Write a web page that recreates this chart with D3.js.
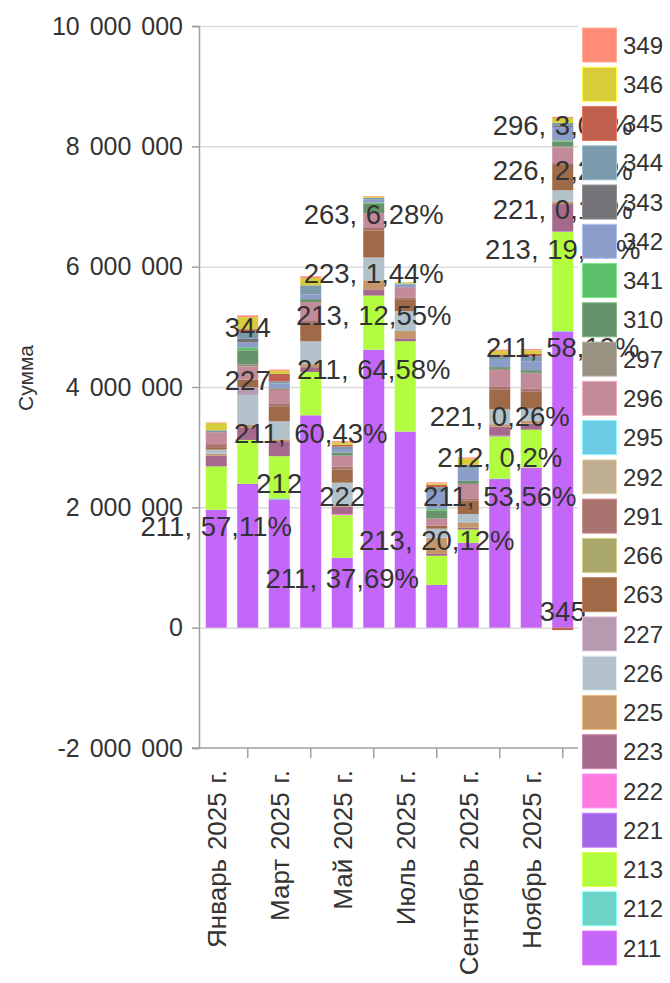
<!DOCTYPE html>
<html><head><meta charset="utf-8">
<script src="https://cdn.jsdelivr.net/npm/d3@7"></script>
<style>
body{margin:0;background:#fff}
text{font-family:"Liberation Sans",Arial,sans-serif}
</style>
</head><body><svg id="c" width="670" height="983"></svg>
<script>
// ---------- DATA ----------
const months = ["Январь 2025 г.","Февраль 2025 г.","Март 2025 г.","Апрель 2025 г.","Май 2025 г.","Июнь 2025 г.",
  "Июль 2025 г.","Август 2025 г.","Сентябрь 2025 г.","Октябрь 2025 г.","Ноябрь 2025 г.","Декабрь 2025 г."];
const shownMonthLabels = ["Январь 2025 г.","Март 2025 г.","Май 2025 г.","Июль 2025 г.","Сентябрь 2025 г.","Ноябрь 2025 г."];
const tickMonths = ["Февраль 2025 г.","Апрель 2025 г.","Июнь 2025 г.","Август 2025 г.","Октябрь 2025 г.","Декабрь 2025 г."];
const yTickValues = [-2000000, 0, 2000000, 4000000, 6000000, 8000000, 10000000];
const yTitle = "Сумма";

const seriesKeys = ["211","212","213","221","222","223","225","226","227","263","266","291","292","295","296","297","310","341","342","343","344","345","346","349"];
const seriesColors = ["#c466f8","#6dd3c6","#b2fd40","#a167e6","#ff7ade","#a56a8b","#c4966a","#b2c1ca","#b59ab0","#9e6a48","#aaa86b","#a8736e","#c0ae93","#6ccae2","#c38b99","#979282","#66936a","#5dbf6b","#8c9dc9","#747478","#7b9aac","#c0604e","#d8cc3a","#ff8c78"];

const v211 = [1960000,2390000,2130000,3530000,1160000,4620000,3260000,710000,1410000,2470000,2660000,4920000];
const v212 = [0,0,20000,0,0,0,0,0,0,9000,0,10000];
const v213 = [720000,730000,700000,720000,710000,900000,1500000,485000,220000,700000,630000,1650000];
const v221 = [0,0,0,0,0,0,0,0,0,12000,0,10000];
const v222 = [0,0,0,0,20000,0,0,0,0,0,0,0];
const v223 = [180000,200000,250000,80000,120000,103000,50000,30000,30000,150000,100000,450000];
const v225 = [30000,50000,30000,50000,30000,150000,120000,270000,80000,40000,50000,40000];
const v226 = [70000,500000,300000,380000,370000,380000,330000,150000,150000,250000,200000,190000];
const v227 = [0,130000,0,0,0,0,0,0,0,0,0,0];
const v263 = [40000,120000,250000,300000,220000,450000,200000,50000,220000,330000,280000,420000];
const v266 = [0,0,0,0,0,0,0,0,0,0,0,0];
const v291 = [50000,0,50000,50000,50000,40000,30000,0,30000,40000,50000,30000];
const v292 = [0,0,0,0,0,0,0,0,0,0,0,0];
const v295 = [0,0,0,0,0,0,0,0,0,0,0,0];
const v296 = [200000,220000,220000,300000,180000,250000,170000,120000,250000,280000,250000,260000];
const v297 = [0,40000,30000,0,0,0,0,0,0,20000,30000,20000];
const v310 = [0,230000,0,50000,50000,150000,0,130000,50000,30000,30000,80000];
const v341 = [0,50000,0,0,0,20000,0,30000,0,0,0,20000];
const v342 = [0,80000,80000,80000,60000,50000,40000,280000,200000,120000,150000,220000];
const v343 = [0,60000,0,0,0,0,0,0,0,0,0,20000];
const v344 = [30000,120000,30000,150000,40000,30000,20000,80000,50000,50000,80000,50000];
const v345 = [0,40000,130000,0,30000,0,0,40000,20000,40000,40000,-40000];
const v346 = [120000,200000,50000,120000,40000,20000,20000,20000,100000,60000,60000,80000];
const v349 = [10000,30000,20000,30000,20000,10000,0,20000,20000,20000,20000,20000];

// data labels: month, text, value level where the label sits
const labelMonths = ["Январь 2025 г.","Февраль 2025 г.","Февраль 2025 г.","Апрель 2025 г.","Март 2025 г.","Май 2025 г.","Май 2025 г.",
  "Июнь 2025 г.","Июнь 2025 г.","Июнь 2025 г.","Июнь 2025 г.","Август 2025 г.",
  "Октябрь 2025 г.","Октябрь 2025 г.","Октябрь 2025 г.",
  "Декабрь 2025 г.","Декабрь 2025 г.","Декабрь 2025 г.","Декабрь 2025 г.","Декабрь 2025 г.","Декабрь 2025 г."];
const labelTexts = ["211, 57,11%","344","227","211, 60,43%","212","222","211, 37,69%",
  "263, 6,28%","223, 1,44%","213, 12,55%","211, 64,58%","213, 20,12%",
  "221, 0,26%","212, 0,2%","211, 53,56%",
  "296, 3,06%","226, 2,24%","221, 0,13%","213, 19,47%","211, 58,19%","345"];
const labelLevels = [1680000,5000000,4120000,3230000,2410000,2180000,830000,
  6870000,5890000,5190000,4290000,1450000,
  3510000,2840000,2180000,
  8350000,7600000,6950000,6300000,4670000,270000];

// ---------- BUILD ----------
const seriesValues = [v211,v212,v213,v221,v222,v223,v225,v226,v227,v263,v266,v291,v292,v295,v296,v297,v310,v341,v342,v343,v344,v345,v346,v349];
const table = months.map((m,i)=>{const o={month:m}; seriesKeys.forEach((k,j)=>o[k]=seriesValues[j][i]); return o;});
const color = d3.scaleOrdinal(seriesKeys, seriesColors);

const svg = d3.select("#c");
const L = 199, R = 578, T = 26, B = 748;
const x = d3.scaleBand(months, [200.5, 578.5]).paddingInner(0.333).paddingOuter(0.1667);
const y = d3.scaleLinear([-2000000, 10000000], [B, T]);
const fmt = v => String(v).replace(/\B(?=(\d{3})+(?!\d))/g, " ");

// grid
svg.append("g").selectAll("line").data(yTickValues.filter(v=>v>-2000000)).join("line")
  .attr("x1", L).attr("x2", R).attr("y1", d=>y(d)+0.5).attr("y2", d=>y(d)+0.5)
  .attr("stroke", "#dcdcdc").attr("stroke-width", 1.5);

// bars
const stack = d3.stack().keys(seriesKeys).offset(d3.stackOffsetDiverging);
const layers = stack(table);
svg.append("g").selectAll("g").data(layers).join("g")
  .attr("fill", d=>color(d.key))
  .selectAll("rect").data(d=>d).join("rect")
  .attr("x", d=>x(d.data.month)).attr("width", x.bandwidth())
  .attr("y", d=>y(Math.max(d[0],d[1]))).attr("height", d=>Math.abs(y(d[0])-y(d[1])));

// y axis
const gy = svg.append("g").attr("transform", `translate(${L},0)`)
  .call(d3.axisLeft(y).tickValues(yTickValues).tickSize(7).tickPadding(9).tickFormat(fmt));
gy.select(".domain").attr("stroke", "#a0a0a0").attr("stroke-width", 1.5);
gy.selectAll(".tick line").attr("stroke", "#a0a0a0").attr("stroke-width", 1.5);
gy.selectAll(".tick text").attr("font-size", 25).attr("fill", "#333").style("word-spacing", "3px")
  .attr("font-family", "Liberation Sans, Arial, sans-serif");

// x axis line + ticks
svg.append("line").attr("x1", L-7).attr("x2", R).attr("y1", B).attr("y2", B)
  .attr("stroke", "#a0a0a0").attr("stroke-width", 1.5);
svg.append("g").selectAll("line").data(tickMonths).join("line")
  .attr("x1", d=>x(d)+x.bandwidth()/2).attr("x2", d=>x(d)+x.bandwidth()/2)
  .attr("y1", B).attr("y2", B+10).attr("stroke", "#a0a0a0").attr("stroke-width", 1.5);
svg.append("g").selectAll("text").data(shownMonthLabels).join("text")
  .attr("transform", d=>`translate(${x(d)+x.bandwidth()/2},770) rotate(-90)`)
  .attr("text-anchor", "end").attr("dy", "0.36em")
  .attr("font-size", 26).attr("fill", "#333").style("word-spacing", "1.5px")
  .text(d=>d);

// y title
svg.append("text").attr("transform", "translate(25,378) rotate(-90)")
  .attr("text-anchor", "middle").attr("dy", "0.36em")
  .attr("font-size", 21).attr("fill", "#333").text(yTitle);

// data labels
svg.append("g").selectAll("text").data(labelTexts).join("text")
  .attr("x", (d,i)=>x(labelMonths[i])+x.bandwidth()/2)
  .attr("y", (d,i)=>y(labelLevels[i]))
  .attr("dy", "0.36em").attr("text-anchor", "middle")
  .attr("font-size", 27.5).attr("fill", "#333").style("word-spacing", "1px")
  .text(d=>d);

// legend (top to bottom reversed order)
const legKeys = seriesKeys.slice().reverse();
const ly = d3.scalePoint(legKeys, [45, 948]);
const lg = svg.append("g").selectAll("g").data(legKeys).join("g")
  .attr("transform", d=>`translate(582,${ly(d)})`);
lg.append("rect").attr("x", 0.5).attr("y", -17).attr("width", 34).attr("height", 34)
  .attr("fill", d=>color(d)).attr("stroke", d=>d3.color(color(d)).brighter(0.6)).attr("stroke-width", 1);
lg.append("text").attr("x", 41).attr("dy", "0.36em").attr("font-size", 24).attr("fill", "#333").text(d=>d);
</script></body></html>
